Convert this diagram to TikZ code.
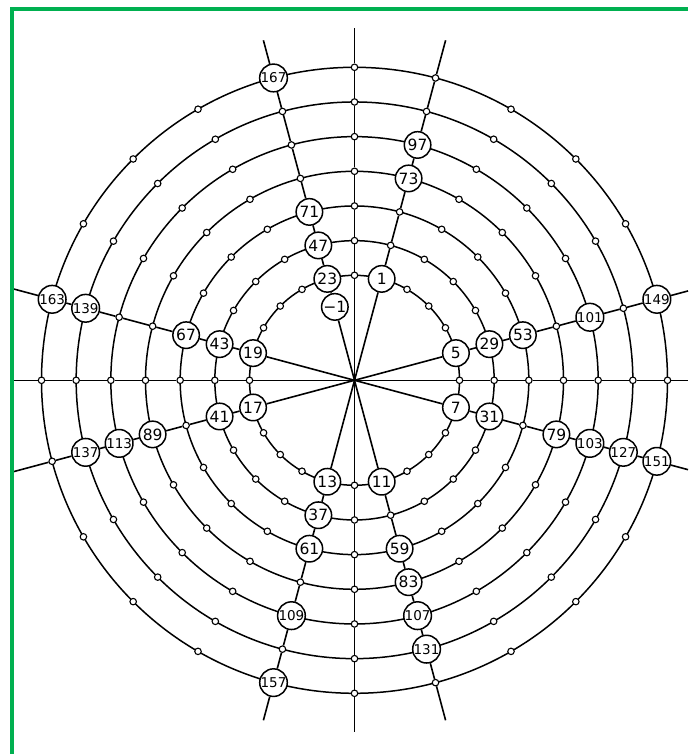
\documentclass[tikz,border=0pt]{standalone}
\usepackage{fontspec}
\setmainfont{DejaVu Sans}
\definecolor{framegreen}{RGB}{0,176,80}
\pgfdeclarelayer{bg}
\pgfsetlayers{bg,main}
\makeatletter
\def\labeledlist{,1,5,7,11,13,17,19,23,29,31,37,41,43,47,53,59,61,67,71,73,79,83,89,97,101,103,107,109,113,127,131,137,139,149,151,157,163,167,}
\newcommand\chooseif[3]{\edef\@tmpa{\noexpand\in@{,#1,}{\labeledlist}}\@tmpa\ifin@#2\else#3\fi}
\makeatother
\begin{document}
\begin{tikzpicture}[x=1pt,y=1pt,
  ring/.style={line width=1.5pt},
  spoke/.style={line width=1.6pt},
  num/.style={circle,draw,line width=1.5pt,fill=white,minimum size=26.5pt,inner sep=0pt,font=\fontsize{15.5}{15.5}\selectfont},
  numsmall/.style={num,font=\fontsize{13.5}{13.5}\selectfont},
  dot/.style={circle,draw,line width=1.1pt,fill=white,minimum size=6.5pt,inner sep=0pt},
  frameline/.style={draw=framegreen,line width=4pt}]
\useasboundingbox (0,0) rectangle (688,-754);
\begin{scope}[shift={(354.5,-380.3)}]
  \coordinate (O) at (0,0);
  % positions on the seven rings
  \foreach \k in {1,...,7} {
    \pgfmathsetmacro\rad{105+34.667*(\k-1)}
    \foreach \j in {0,...,23} {
      \pgfmathtruncatemacro\n{24*(\k-1)+\j}
      \pgfmathsetmacro\ang{90-15*\j}
      \chooseif{\n}{%
        \ifnum\n<100 \node[num] (p\k-\j) at (\ang:\rad pt) {\n};\else\node[numsmall] (p\k-\j) at (\ang:\rad pt) {\n};\fi
      }{\node[dot] (p\k-\j) at (\ang:\rad pt) {};}
    }
  }
  \node[num] (m1) at (105:76pt) {−1};
  % free ends of the spokes
  \foreach \j/\r in {0/352,1/352,5/345.3,6/333.5,7/345.3,11/352,12/352,13/352,17/352.5,18/340.5,19/352.5,23/352}
    \coordinate (e\j) at ({90-15*\j}:\r pt);
  \begin{pgfonlayer}{bg}
    \foreach \k in {1,...,7}
      \draw[ring] (O) circle[radius={105pt+34.667pt*(\k-1)}];
    \foreach \j in {1,5,7,11,13,17,19}
      \draw[spoke] (O) -- (p1-\j) -- (p2-\j) -- (p3-\j) -- (p4-\j) -- (p5-\j) -- (p6-\j) -- (p7-\j) -- (e\j);
    \draw[spoke] (O) -- (m1) -- (p1-23) -- (p2-23) -- (p3-23) -- (p4-23) -- (p5-23) -- (p6-23) -- (p7-23) -- (e23);
    \draw[spoke] (e0) -- (p7-0) -- (p6-0) -- (p5-0) -- (p4-0) -- (p3-0) -- (p2-0) -- (p1-0) -- (O)
      -- (p1-12) -- (p2-12) -- (p3-12) -- (p4-12) -- (p5-12) -- (p6-12) -- (p7-12) -- (e12);
    \draw[spoke] (e18) -- (p7-18) -- (p6-18) -- (p5-18) -- (p4-18) -- (p3-18) -- (p2-18) -- (p1-18) -- (O)
      -- (p1-6) -- (p2-6) -- (p3-6) -- (p4-6) -- (p5-6) -- (p6-6) -- (p7-6) -- (e6);
  \end{pgfonlayer}
\end{scope}
\coordinate (fb) at (12,-754);
\coordinate (fc) at (12,-9);
\coordinate (fr) at (688,-9);
\draw[frameline] (fb) -- (fc) -- (fr);
\end{tikzpicture}
\end{document}
